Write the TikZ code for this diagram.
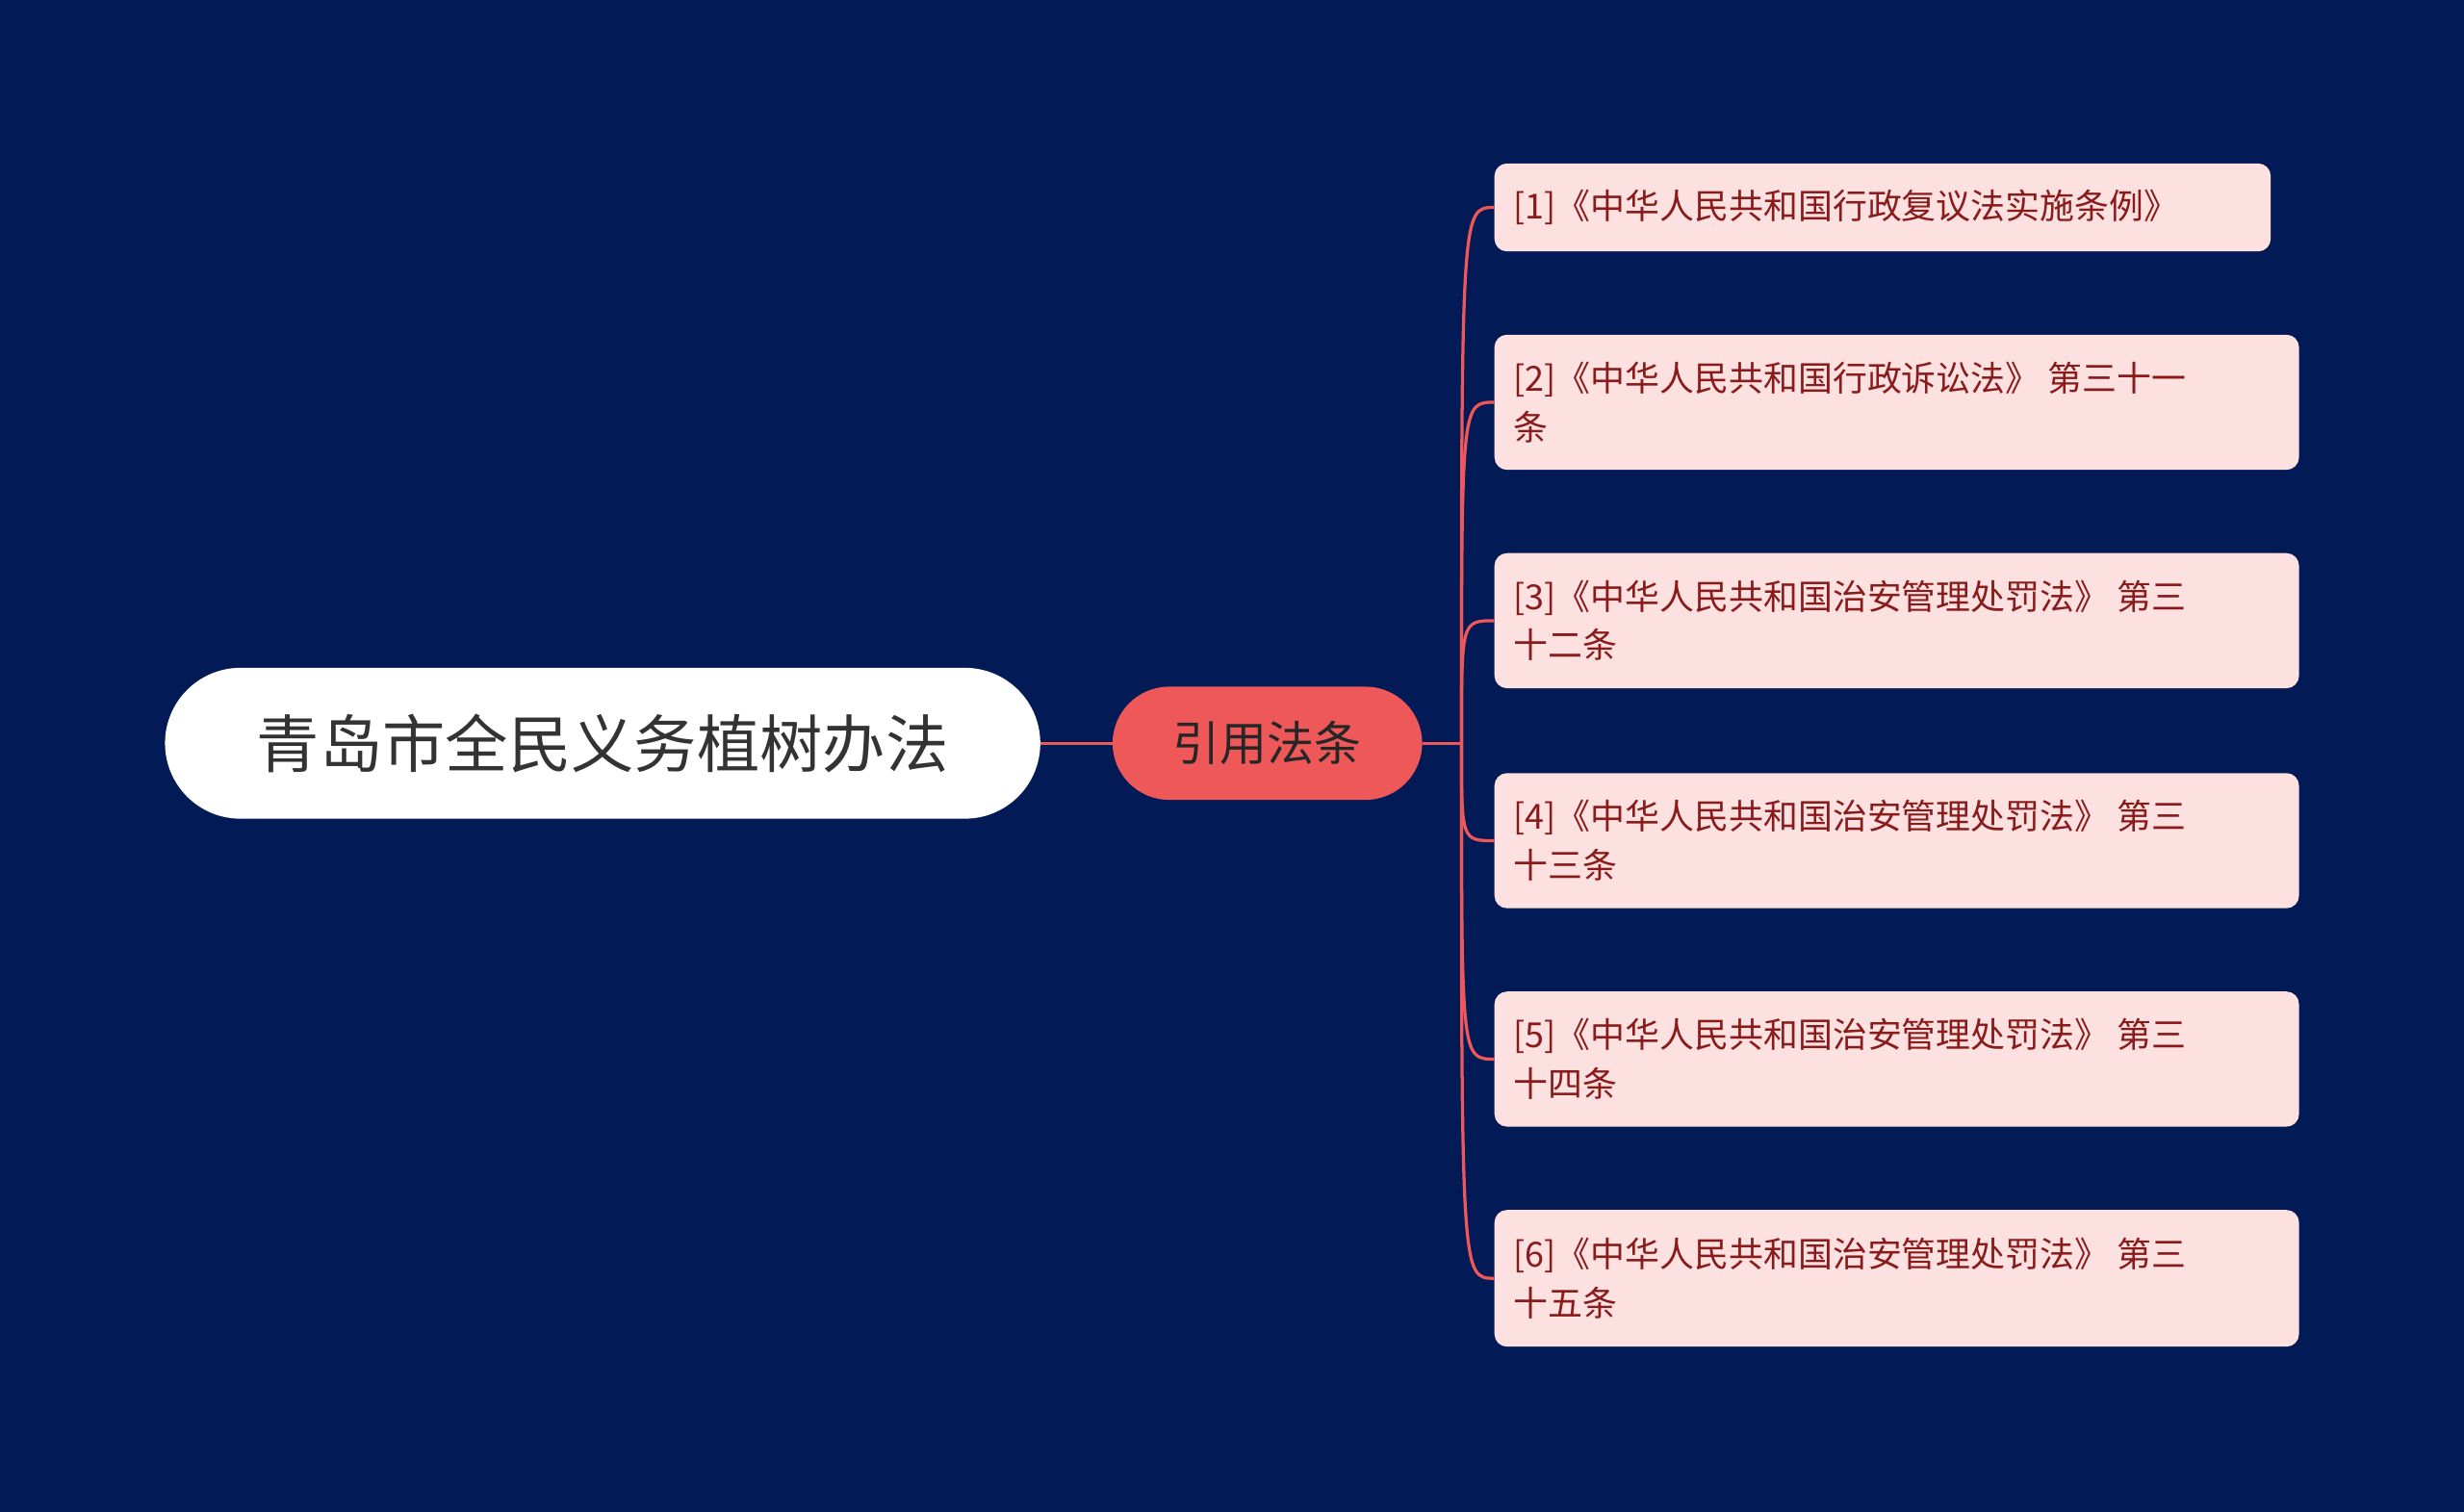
\documentclass[tikz,border=0pt]{standalone}
\usepackage{fontspec}
\setmainfont{Noto Sans CJK SC}
\begin{document}
\begin{tikzpicture}[x=1pt,y=-1pt,
  leaf/.style={fill=leafc,rounded corners=8pt,anchor=north west,align=left,inner sep=0pt,text=leaft,font=\fontsize{22}{31}\selectfont},
  conn/.style={draw=midc,line width=2pt}]
\definecolor{bg}{HTML}{021A55}
\definecolor{midc}{HTML}{EE5859}
\definecolor{leafc}{HTML}{FDE0E0}
\definecolor{leaft}{HTML}{8A1B1B}
\fill[bg] (0,0) rectangle (1568,962);
\useasboundingbox (0,0) rectangle (1568,962);
\node[fill=white,rounded corners=48pt,minimum width=557pt,minimum height=96pt,text=black!80,font=\fontsize{40}{40}\selectfont] (root) at (383.5,473) {青岛市全民义务植树办法};
\node[fill=midc,rounded corners=36pt,minimum width=197pt,minimum height=72pt,text=black!85,font=\fontsize{30}{30}\selectfont] (mid) at (806.5,473) {引用法条};
\draw[conn] (root.east) -- (mid.west);
\coordinate (j) at (930,473);
\draw[conn] (mid.east) -- (j);
\def\leafbox#1#2#3#4#5{\fill[leafc,rounded corners=8pt] (951,#2) rectangle (#3,#4);
  \node[anchor=west,align=left,text=leaft,font=\fontsize{22}{31}\selectfont,inner sep=0pt] (#1) at (963,{(#2+#4)/2}) {#5};
  \coordinate (#1w) at (951,{(#2+#4)/2});
  \draw[conn] (j) .. controls (930,{(#2+#4)/2}) and (930,{(#2+#4)/2}) .. (#1w);}
\leafbox{l1}{104}{1445}{160}{[1]《中华人民共和国行政复议法实施条例》}
\leafbox{l2}{213}{1463}{299}{[2]《中华人民共和国行政诉讼法》 第三十一\\条}
\leafbox{l3}{352}{1463}{438}{[3]《中华人民共和国治安管理处罚法》 第三\\十二条}
\leafbox{l4}{492}{1463}{578}{[4]《中华人民共和国治安管理处罚法》 第三\\十三条}
\leafbox{l5}{631}{1463}{717}{[5]《中华人民共和国治安管理处罚法》 第三\\十四条}
\leafbox{l6}{770}{1463}{857}{[6]《中华人民共和国治安管理处罚法》 第三\\十五条}
\end{tikzpicture}
\end{document}
